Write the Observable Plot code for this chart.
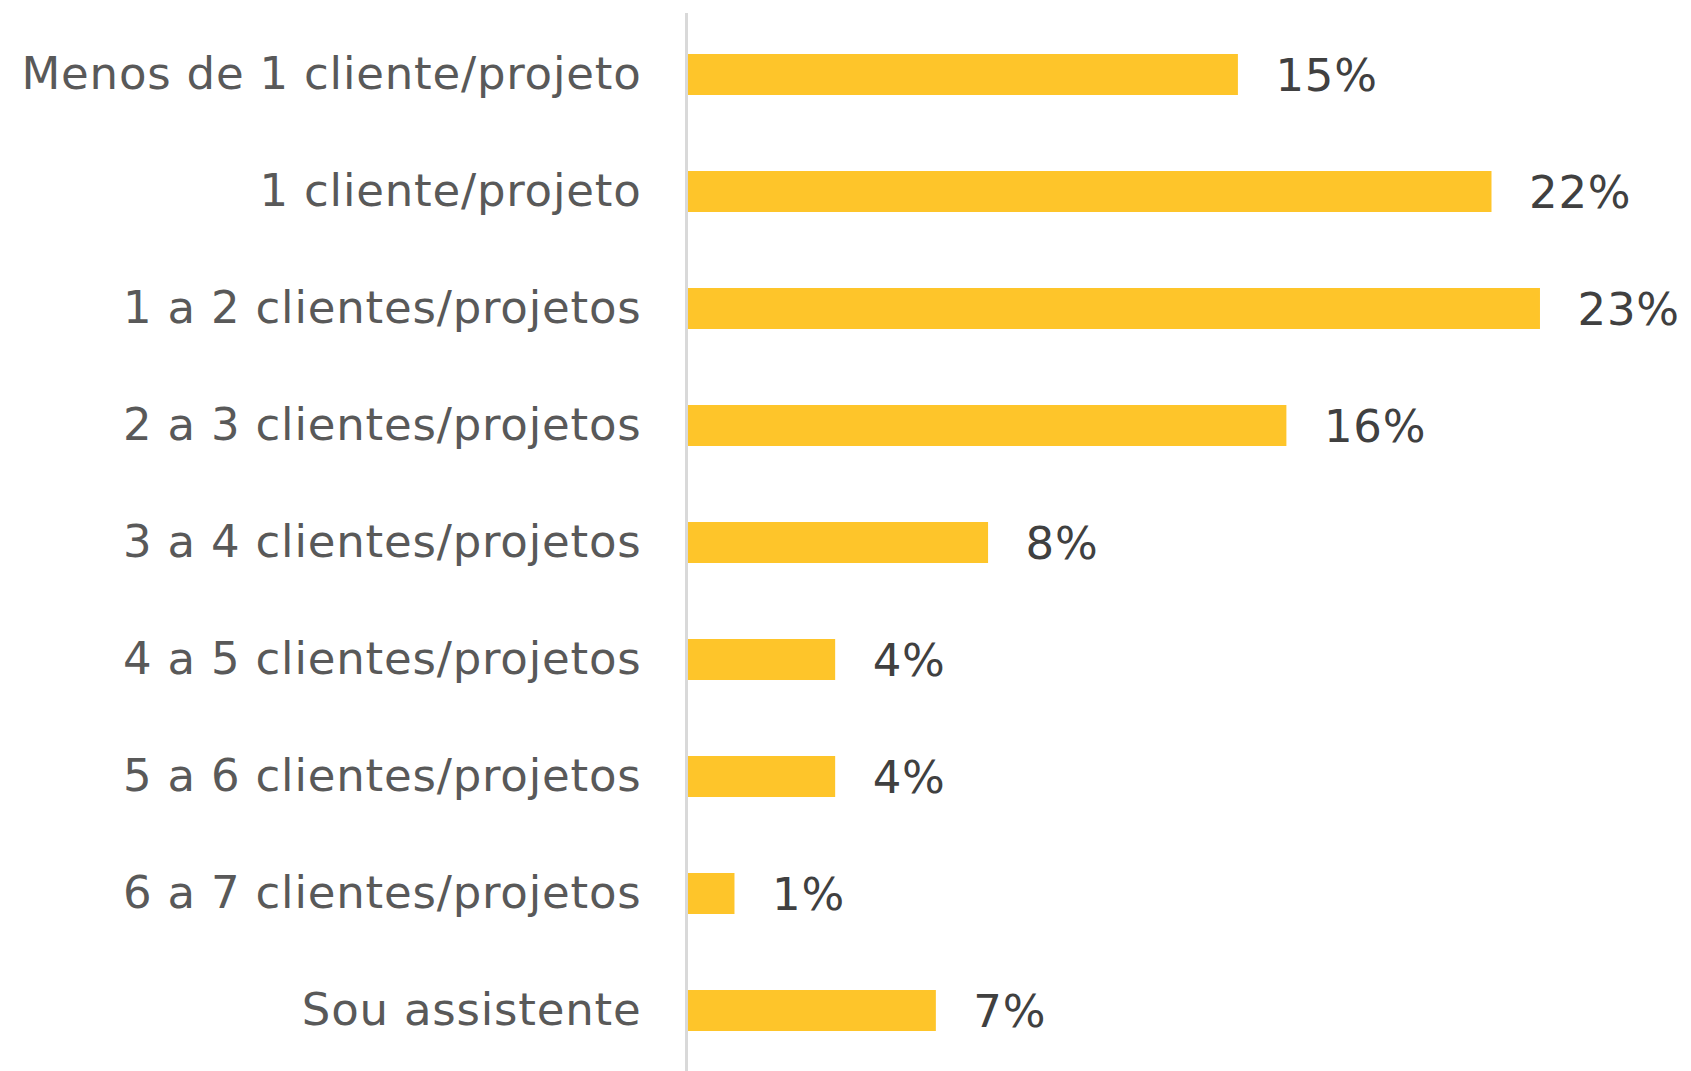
<!DOCTYPE html>
<html>
<head>
<meta charset="utf-8">
<script src="https://cdn.jsdelivr.net/npm/d3@7"></script>
<script src="https://cdn.jsdelivr.net/npm/@observablehq/plot@0.6"></script>
<style>
  html, body { margin: 0; padding: 0; background: #fff; }
  #chart svg { display: block; }
  #chart svg text { letter-spacing: 0.8px; }
</style>
</head>
<body>
<div id="chart"></div>
<script>
const categories = [
  "Menos de 1 cliente/projeto",
  "1 cliente/projeto",
  "1 a 2 clientes/projetos",
  "2 a 3 clientes/projetos",
  "3 a 4 clientes/projetos",
  "4 a 5 clientes/projetos",
  "5 a 6 clientes/projetos",
  "6 a 7 clientes/projetos",
  "Sou assistente"
];
const barValues = [14.8, 21.6, 22.9, 16.1, 8.1, 4.0, 4.0, 1.3, 6.7];
const valueLabels = ["15%", "22%", "23%", "16%", "8%", "4%", "4%", "1%", "7%"];

const data = categories.map((c, i) => ({cat: c, v: barValues[i], label: valueLabels[i]}));

const chart = Plot.plot({
  width: 1691,
  height: 1071,
  marginLeft: 686,
  marginRight: 0,
  marginTop: 13,
  marginBottom: 0,
  style: {fontFamily: "DejaVu Sans", background: "#fff"},
  x: {domain: [0, 26.95], axis: null},
  y: {domain: categories, paddingInner: 0.65, paddingOuter: 0.325, label: null},
  marks: [
    Plot.barX(data, {y: "cat", x: "v", fill: "#FEC52A"}),
    Plot.text(data, {y: "cat", x: "v", text: "label", textAnchor: "start", dx: 37, dy: 2,
      fontSize: 45, fill: "#404040"}),
    Plot.axisY({tickSize: 0, tickPadding: 45, fontSize: 45, color: "#595959", label: null}),
    Plot.ruleX([0], {stroke: "#d9d9d9", strokeWidth: 3})
  ]
});
document.getElementById("chart").appendChild(chart);
</script>
</body>
</html>
